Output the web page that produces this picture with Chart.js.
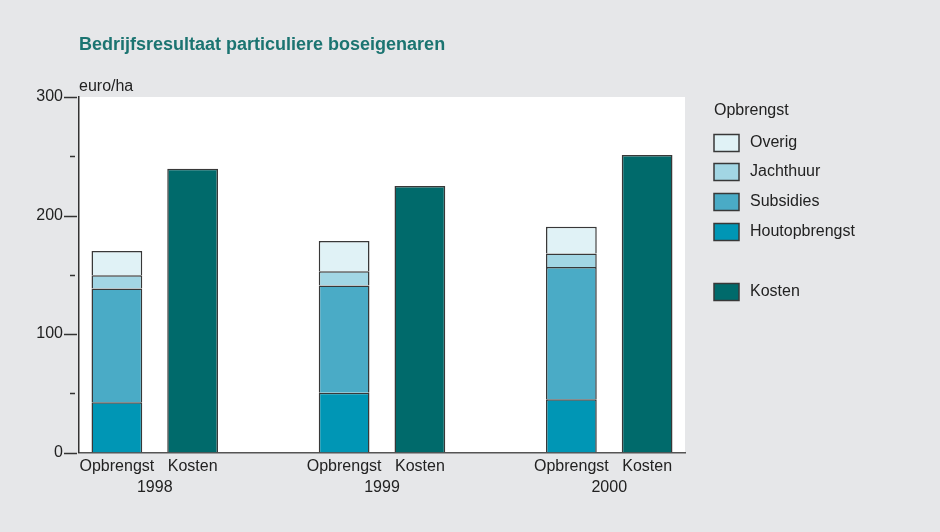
<!DOCTYPE html>
<html>
<head>
<meta charset="utf-8">
<script src="https://cdn.jsdelivr.net/npm/chart.js@4"></script>
<style>
	html, body { margin: 0; padding: 0; background: #e6e7e9; }
	#wrap { width: 940px; height: 532px; position: relative; }
</style>
</head>
<body>
<div id="wrap"><canvas id="chart" width="940" height="532"></canvas></div>
<script>
// data ------------------------------------------------------------
const categories = ['Opbrengst', 'Kosten', '', 'Opbrengst', 'Kosten', '', 'Opbrengst', 'Kosten']
const years = ['1998', '1999', '2000']
const houtopbrengst = [42.5, null, null, 50.5, null, null, 45, null]
const subsidies = [96, null, null, 90.5, null, null, 111.5, null]
const jachthuur = [11, null, null, 12, null, null, 11.5, null]
const overig = [20.5, null, null, 25.5, null, null, 22.5, null]
const kosten = [null, 239.5, null, null, 225, null, null, 251]
const yTicks = [0, 100, 200, 300]

const font = "'Liberation Sans', Arial, sans-serif"
const edge = '#383838'

function ds(label, data, color) {
	return {
		label: label,
		data: data,
		backgroundColor: color,
		borderColor: edge,
		borderWidth: 1.5,
		barPercentage: 0.67,
		categoryPercentage: 1
	}
}

const datasets = [
	ds('Houtopbrengst', houtopbrengst, '#0096b5'),
	ds('Subsidies', subsidies, '#4aabc6'),
	ds('Jachthuur', jachthuur, '#a2d6e4'),
	ds('Overig', overig, '#e0f2f6'),
	ds('Kosten', kosten, '#006a6b')
]

// plugin: background, title, years, y tick marks, legend -----------
const decor = {
	id: 'decor',
	beforeDraw(chart) {
		const {ctx, chartArea: a} = chart
		ctx.save()
		ctx.fillStyle = '#e6e7e9'
		ctx.fillRect(0, 0, chart.width, chart.height)
		ctx.fillStyle = '#ffffff'
		ctx.fillRect(a.left, a.top, a.right - a.left, a.bottom - a.top)
		ctx.restore()
	},
	afterDraw(chart) {
		const {ctx, chartArea: a} = chart
		const x = chart.scales.x, y = chart.scales.y
		ctx.save()
		// title
		ctx.fillStyle = '#1b7471'
		ctx.font = `bold 18px ${font}`
		ctx.textBaseline = 'middle'
		ctx.textAlign = 'left'
		ctx.fillText('Bedrijfsresultaat particuliere boseigenaren', a.left, 45)
		// unit
		ctx.fillStyle = '#222'
		ctx.font = `16px ${font}`
		ctx.fillText('euro/ha', a.left, 87)
		// years under each pair
		ctx.textAlign = 'center'
		years.forEach((yr, i) => {
			const cx = (x.getPixelForValue(i * 3) + x.getPixelForValue(i * 3 + 1)) / 2
			ctx.fillText(yr, cx, 488)
		})
		// y tick marks
		ctx.strokeStyle = '#333'
		ctx.lineWidth = 1.5
		for (let v = 0; v <= 300; v += 50) {
			const py = Math.round(y.getPixelForValue(v)) + 0.5
			ctx.beginPath()
			if (v % 100 == 0) {
				ctx.moveTo(a.left - 15, py)
				ctx.lineTo(a.left - 2, py)
			} else {
				ctx.moveTo(a.left - 9, py)
				ctx.lineTo(a.left - 4, py)
			}
			ctx.stroke()
		}
		// legend
		ctx.textAlign = 'left'
		ctx.fillStyle = '#222'
		ctx.fillText('Opbrengst', 714, 111)
		const order = [3, 2, 1, 0, 4]
		const rows = [143, 172, 202, 232, 292]
		order.forEach((di, r) => {
			const d = chart.data.datasets[di]
			ctx.fillStyle = d.backgroundColor
			ctx.fillRect(714, rows[r] - 8.5, 25, 17)
			ctx.strokeStyle = edge
			ctx.lineWidth = 1.5
			ctx.strokeRect(714, rows[r] - 8.5, 25, 17)
			ctx.fillStyle = '#222'
			ctx.fillText(d.label, 750, rows[r])
		})
		ctx.restore()
	}
}

new Chart('chart', {
	type: 'bar',
	data: { labels: categories, datasets: datasets },
	plugins: [decor],
	options: {
		responsive: false,
		animation: false,
		layout: { padding: { top: 97, right: 255, left: 0, bottom: 0 } },
		plugins: {
			legend: { display: false },
			tooltip: { enabled: false }
		},
		scales: {
			x: {
				stacked: true,
				grid: { display: false, drawTicks: true, tickLength: 0 },
				border: { display: true, color: '#555', width: 1.5 },
				ticks: {
					color: '#222',
					font: { family: font, size: 16 },
					padding: 4,
					autoSkip: false,
					maxRotation: 0
				},
				afterFit: s => { s.height = 79.5 }
			},
			y: {
				stacked: true,
				min: 0,
				max: 300,
				grid: { display: false, drawTicks: true, tickLength: 0 },
				border: { display: true, color: '#333', width: 1.5 },
				ticks: {
					stepSize: 50,
					color: '#222',
					font: { family: font, size: 16 },
					padding: 16,
					callback: v => yTicks.includes(v) ? v : ''
				},
				afterFit: s => { s.width = 79 }
			}
		}
	}
})
</script>
</body>
</html>
